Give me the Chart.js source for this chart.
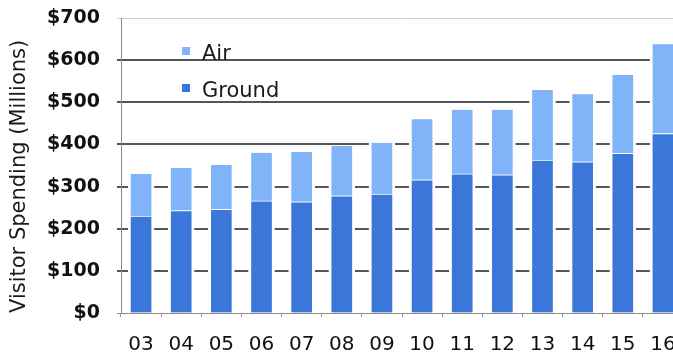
<!DOCTYPE html>
<html>
<head>
<meta charset="utf-8">
<script src="https://cdn.jsdelivr.net/npm/chart.js@4"></script>
<style>
  html, body { margin: 0; padding: 0; background: #fff; overflow: hidden; }
  #chart { display: block; }
</style>
</head>
<body>
<canvas id="chart" width="686" height="353"></canvas>
<script>
// Fiscal years (two-digit) along the bottom axis
const years = ['03', '04', '05', '06', '07', '08', '09', '10', '11', '12', '13', '14', '15', '16'];

// Visitor spending by arrival mode, $ millions
const groundSpending = [230, 243, 246, 266, 264, 278, 282, 316, 330, 328, 363, 359, 379, 426];
const airSpending    = [100, 101, 105, 114, 118, 118, 122, 144, 152, 154, 166, 160, 186, 212];

// Value axis ticks, $ millions
const yTicks = [0, 100, 200, 300, 400, 500, 600, 700];

const groundLabel = 'Ground';
const airLabel = 'Air';
const axisTitle = 'Visitor Spending (Millions)';

const GROUND_BLUE = '#3b77d8';
const AIR_BLUE = '#80b3f7';

// Legend stacked in the upper-left corner of the plot, Air above Ground
const insetLegend = {
  id: 'insetLegend',
  afterDatasetsDraw(chart) {
    const { ctx, chartArea } = chart;
    const items = chart.data.datasets.slice().reverse();
    ctx.save();
    ctx.font = '21px "DejaVu Sans"';
    ctx.textBaseline = 'alphabetic';
    ctx.textAlign = 'left';
    items.forEach((ds, i) => {
      const baseline = chartArea.top + 42 + i * 37;
      ctx.fillStyle = ds.backgroundColor;
      ctx.fillRect(chartArea.left + 61, baseline - 13, 8, 8);
      ctx.fillStyle = '#1a1a1a';
      ctx.fillText(ds.label, chartArea.left + 81, baseline);
    });
    ctx.restore();
  }
};

new Chart(document.getElementById('chart'), {
  type: 'bar',
  data: {
    labels: years,
    datasets: [
      {
        label: groundLabel,
        data: groundSpending,
        backgroundColor: GROUND_BLUE,
        borderColor: '#ffffff',
        borderWidth: { left: 3, right: 3, top: 1, bottom: 0 },
        borderSkipped: 'start',
        barThickness: 26
      },
      {
        label: airLabel,
        data: airSpending,
        backgroundColor: AIR_BLUE,
        borderColor: '#ffffff',
        borderWidth: { left: 3, right: 3, top: 0, bottom: 0 },
        borderSkipped: 'start',
        barThickness: 26
      }
    ]
  },
  plugins: [insetLegend],
  options: {
    responsive: false,
    maintainAspectRatio: false,
    animation: false,
    devicePixelRatio: 1,
    layout: { padding: { left: 0, right: 3, top: 18, bottom: 0 } },
    plugins: {
      legend: { display: false },
      tooltip: { enabled: false }
    },
    scales: {
      x: {
        stacked: true,
        grid: {
          drawOnChartArea: false,
          drawTicks: true,
          tickLength: 4,
          color: '#9a9a9a'
        },
        border: { color: '#8c8c8c', width: 1 },
        ticks: {
          color: '#111',
          font: { family: 'DejaVu Sans', size: 20 },
          padding: 16,
          maxRotation: 0,
          autoSkip: false
        },
        afterFit(scale) {
          scale.height = 40;
          scale.paddingLeft = 0;
          scale.paddingRight = 0;
        }
      },
      y: {
        stacked: true,
        min: 0,
        max: 700,
        afterBuildTicks(scale) {
          scale.ticks = yTicks.map(v => ({ value: v }));
        },
        grid: {
          color: c => (c.tick && (c.tick.value === 700)) ? '#d0d0d0'
                    : (c.tick && c.tick.value === 0) ? '#8c8c8c' : '#555555',
          lineWidth: c => (c.tick && (c.tick.value === 700 || c.tick.value === 0)) ? 1 : 2,
          tickLength: 4
        },
        border: { color: '#8c8c8c', width: 1 },
        ticks: {
          color: '#111',
          font: { family: 'DejaVu Sans', size: 19, weight: 'bold' },
          padding: 17,
          callback: v => '$' + v
        },
        title: {
          display: true,
          text: axisTitle,
          align: 'start',
          color: '#1a1a1a',
          font: { family: 'DejaVu Sans', size: 21 },
          padding: { top: 7, bottom: 0 }
        },
        afterFit(scale) {
          scale.width = 121;
          scale.paddingTop = 0;
          scale.paddingBottom = 0;
        }
      }
    }
  }
});
</script>
</body>
</html>
